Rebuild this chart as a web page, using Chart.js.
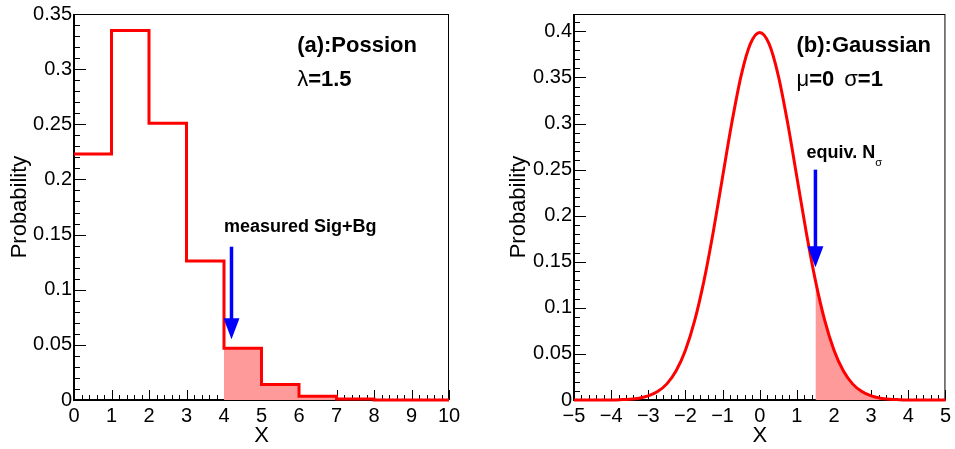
<!DOCTYPE html>
<html>
<head>
<meta charset="utf-8">
<script src="https://cdn.jsdelivr.net/npm/chart.js@4.4.1/dist/chart.umd.min.js"></script>
<style>
  html, body { margin: 0; padding: 0; background: #fff; }
  #wrap { position: relative; width: 955px; height: 449px; }
  canvas { position: absolute; top: 0; }
  #poisson { left: 0; }
  #gauss { left: 480px; }
</style>
</head>
<body>
<div id="wrap">
  <canvas id="poisson" width="480" height="449"></canvas>
  <canvas id="gauss" width="475" height="449"></canvas>
</div>
<script>
// (a) Poisson, lambda = 1.5 -- one bin per integer [k, k+1)
const poisBins = [0, 1, 2, 3, 4, 5, 6, 7, 8, 9];
const poisProb = [0.223, 0.335, 0.251, 0.126, 0.047, 0.014, 0.0035, 0.0008, 0.0001, 0];
const poisShadeFrom = 4;
const poisXTicks = [0, 1, 2, 3, 4, 5, 6, 7, 8, 9, 10];
const poisYTicks = [0, 0.05, 0.1, 0.15, 0.2, 0.25, 0.3, 0.35];
const poisArrow = { x: 4.2, from: 0.139, to: 0.055 };

// (b) Gaussian, mu = 0, sigma = 1
const gausX = [-5, -4.75, -4.5, -4.25, -4, -3.75, -3.5, -3.25, -3, -2.75, -2.5, -2.25, -2, -1.75, -1.5, -1.25,
  -1, -0.75, -0.5, -0.25, 0, 0.25, 0.5, 0.75, 1, 1.25, 1.5, 1.75, 2, 2.25, 2.5, 2.75, 3, 3.25, 3.5, 3.75,
  4, 4.25, 4.5, 4.75, 5];
const gausY = [0, 0, 0, 0, 0.0001, 0.0004, 0.0009, 0.002, 0.0044, 0.0091, 0.0175, 0.0317, 0.054, 0.0863, 0.1295, 0.1826,
  0.242, 0.3011, 0.3521, 0.3867, 0.3989, 0.3867, 0.3521, 0.3011, 0.242, 0.1826, 0.1295, 0.0863, 0.054, 0.0317, 0.0175, 0.0091,
  0.0044, 0.002, 0.0009, 0.0004, 0.0001, 0, 0, 0, 0];
const gausShadeFrom = 1.5;
const gausXTicks = [-5, -4, -3, -2, -1, 0, 1, 2, 3, 4, 5];
const gausYTicks = [0, 0.05, 0.1, 0.15, 0.2, 0.25, 0.3, 0.35, 0.4];
const gausYMax = 0.4189;
const gausArrow = { x: 1.5, from: 0.25, to: 0.144 };

const FONT = "'Liberation Sans', Arial, Helvetica, sans-serif";
const RED = '#ff0000';
const PINK = '#ff9a9a';
const BLUE = '#0000ff';

// histogram outline: left bin edges plus the closing right edge
function histPoints(edges, probs, start) {
    const pts = [];
    edges.forEach((e, i) => {
        if (e >= start) pts.push({ x: e, y: probs[i] });
    });
    pts.push({ x: edges[edges.length - 1] + 1, y: probs[probs.length - 1] });
    return pts;
}

function curvePoints(xs, ys, start) {
    const pts = [];
    xs.forEach((x, i) => {
        if (x >= start) pts.push({ x: x, y: ys[i] });
    });
    return pts;
}

function fmtTick(v) {
    const r = +v.toFixed(3);
    return r < 0 ? '\u2212' + Math.abs(r) : String(r);
}

// ROOT style frame with inward ticks
const rootFrame = {
    id: 'rootFrame',
    beforeDatasetsDraw(chart, args, opts) {
        const { ctx, chartArea: a, scales: { x, y } } = chart;
        ctx.save();
        ctx.strokeStyle = '#000';
        ctx.lineWidth = 1;
        ctx.strokeRect(a.left, a.top + 0.5, a.right - a.left - 0.5, a.bottom - a.top);
        ctx.lineWidth = 2;
        ctx.beginPath();
        ctx.moveTo(a.left, a.top);
        ctx.lineTo(a.left, a.bottom);
        ctx.lineTo(a.right, a.bottom);
        ctx.stroke();

        ctx.lineWidth = 1;
        ctx.beginPath();
        const nx = Math.round((x.max - x.min) / opts.xMinor);
        for (let i = 0; i <= nx; i++) {
            const v = x.min + i * opts.xMinor;
            const px = Math.round(x.getPixelForValue(v)) + 0.5;
            const len = (i % 5 === 0) ? 10 : 5;
            ctx.moveTo(px, a.bottom);
            ctx.lineTo(px, a.bottom - len);
        }
        const ny = Math.floor((y.max - y.min) / opts.yMinor + 1e-6);
        for (let i = 0; i <= ny; i++) {
            const v = y.min + i * opts.yMinor;
            const py = Math.round(y.getPixelForValue(v)) + 0.5;
            const len = (i % 5 === 0) ? 12 : 6;
            ctx.moveTo(a.left, py);
            ctx.lineTo(a.left + len, py);
        }
        ctx.stroke();
        ctx.restore();
    },
    afterDatasetsDraw(chart, args, opts) {
        const { ctx, scales: { x, y } } = chart;
        ctx.save();
        // arrow
        const ar = opts.arrow;
        const px = x.getPixelForValue(ar.x);
        const y0 = y.getPixelForValue(ar.from);
        const y1 = y.getPixelForValue(ar.to);
        const headLen = 21, headW = 16;
        ctx.strokeStyle = BLUE;
        ctx.fillStyle = BLUE;
        ctx.lineWidth = 3.5;
        ctx.beginPath();
        ctx.moveTo(px, y0);
        ctx.lineTo(px, y1 - headLen + 1);
        ctx.stroke();
        ctx.beginPath();
        ctx.moveTo(px - headW / 2, y1 - headLen);
        ctx.lineTo(px + headW / 2, y1 - headLen);
        ctx.lineTo(px, y1);
        ctx.closePath();
        ctx.fill();

        // texts
        ctx.fillStyle = '#000';
        ctx.textAlign = 'left';
        ctx.textBaseline = 'alphabetic';
        opts.labels.forEach(lb => {
            let cx = x.getPixelForValue(lb.x);
            const cy = y.getPixelForValue(lb.y);
            lb.parts.forEach(p => {
                ctx.font = p.font;
                ctx.fillText(p.t, cx, cy + (p.dy || 0));
                cx += ctx.measureText(p.t).width + (p.gap || 0);
            });
        });
        ctx.restore();
    }
};

function makeScales(xMin, xMax, xTicks, yMax, yTicks, yWidth, yTitlePad) {
    return {
        x: {
            type: 'linear', min: xMin, max: xMax,
            afterBuildTicks: s => { s.ticks = xTicks.map(v => ({ value: v })); },
            afterFit: s => { s.height = 49; },
            grid: { display: false, drawTicks: false },
            border: { display: false },
            ticks: {
                color: '#000', font: { family: FONT, size: 20 }, padding: 4,
                maxRotation: 0, minRotation: 0, autoSkip: false,
                callback: v => fmtTick(v)
            },
            title: { display: true, text: 'X', color: '#000', font: { family: FONT, size: 22 }, padding: 0 }
        },
        y: {
            type: 'linear', min: 0, max: yMax,
            afterBuildTicks: s => { s.ticks = yTicks.map(v => ({ value: v })); },
            afterFit: s => { s.width = yWidth; },
            grid: { display: false, drawTicks: false },
            border: { display: false },
            ticks: {
                color: '#000', font: { family: FONT, size: 20 }, padding: 2,
                autoSkip: false, callback: v => fmtTick(v)
            },
            title: {
                display: true, text: 'Probability', color: '#000',
                font: { family: FONT, size: 22 }, padding: { top: yTitlePad, bottom: 0 }
            }
        }
    };
}

// Left: Poisson histogram
new Chart(document.getElementById('poisson').getContext('2d'), {
    type: 'line',
    data: {
        datasets: [
            {
                data: histPoints(poisBins, poisProb, poisBins[0]),
                borderColor: RED, borderWidth: 3, stepped: true,
                pointRadius: 0, fill: false, clip: false, order: 0
            },
            {
                data: histPoints(poisBins, poisProb, poisShadeFrom),
                borderWidth: 0, borderColor: 'rgba(0,0,0,0)', backgroundColor: PINK,
                stepped: true, pointRadius: 0, fill: 'origin', order: 1
            }
        ]
    },
    options: {
        responsive: false,
        animation: false,
        layout: { padding: { top: 14, right: 31, left: 0, bottom: 0 } },
        scales: makeScales(0, 10, poisXTicks, 0.35, poisYTicks, 74, 7),
        plugins: {
            legend: { display: false },
            tooltip: { enabled: false },
            rootFrame: {
                xMinor: 0.2, yMinor: 0.01,
                arrow: poisArrow,
                labels: [
                    { x: 5.95, y: 0.3155, parts: [{ t: '(a):Possion', font: 'bold 22px ' + FONT }] },
                    { x: 5.95, y: 0.2847, parts: [
                        { t: '\u03bb', font: '22px ' + FONT },
                        { t: '=1.5', font: 'bold 22px ' + FONT }
                    ] },
                    { x: 4.0, y: 0.1523, parts: [{ t: 'measured Sig+Bg', font: 'bold 18px ' + FONT }] }
                ]
            }
        }
    },
    plugins: [rootFrame]
});

// Right: Gaussian
new Chart(document.getElementById('gauss').getContext('2d'), {
    type: 'line',
    data: {
        datasets: [
            {
                data: curvePoints(gausX, gausY, gausX[0]),
                borderColor: RED, borderWidth: 3, cubicInterpolationMode: 'monotone',
                pointRadius: 0, fill: false, clip: false, order: 0
            },
            {
                data: curvePoints(gausX, gausY, gausShadeFrom),
                borderWidth: 0, borderColor: 'rgba(0,0,0,0)', backgroundColor: PINK,
                cubicInterpolationMode: 'monotone', pointRadius: 0, fill: 'origin', order: 1
            }
        ]
    },
    options: {
        responsive: false,
        animation: false,
        layout: { padding: { top: 14, right: 7, left: 0, bottom: 0 } },
        scales: makeScales(-5, 5, gausXTicks, gausYMax, gausYTicks, 94, 26),
        plugins: {
            legend: { display: false },
            tooltip: { enabled: false },
            rootFrame: {
                xMinor: 0.2, yMinor: 0.01,
                arrow: gausArrow,
                labels: [
                    { x: 0.99, y: 0.3772, parts: [{ t: '(b):Gaussian', font: 'bold 22px ' + FONT }] },
                    { x: 0.99, y: 0.3404, parts: [
                        { t: '\u03bc', font: '22px ' + FONT },
                        { t: '=0', font: 'bold 22px ' + FONT, gap: 10 },
                        { t: '\u03c3', font: '22px ' + FONT },
                        { t: '=1', font: 'bold 22px ' + FONT }
                    ] },
                    { x: 1.26, y: 0.2623, parts: [
                        { t: 'equiv. N', font: 'bold 18px ' + FONT },
                        { t: '\u03c3', font: '11px ' + FONT, dy: 8 }
                    ] }
                ]
            }
        }
    },
    plugins: [rootFrame]
});
</script>
</body>
</html>
